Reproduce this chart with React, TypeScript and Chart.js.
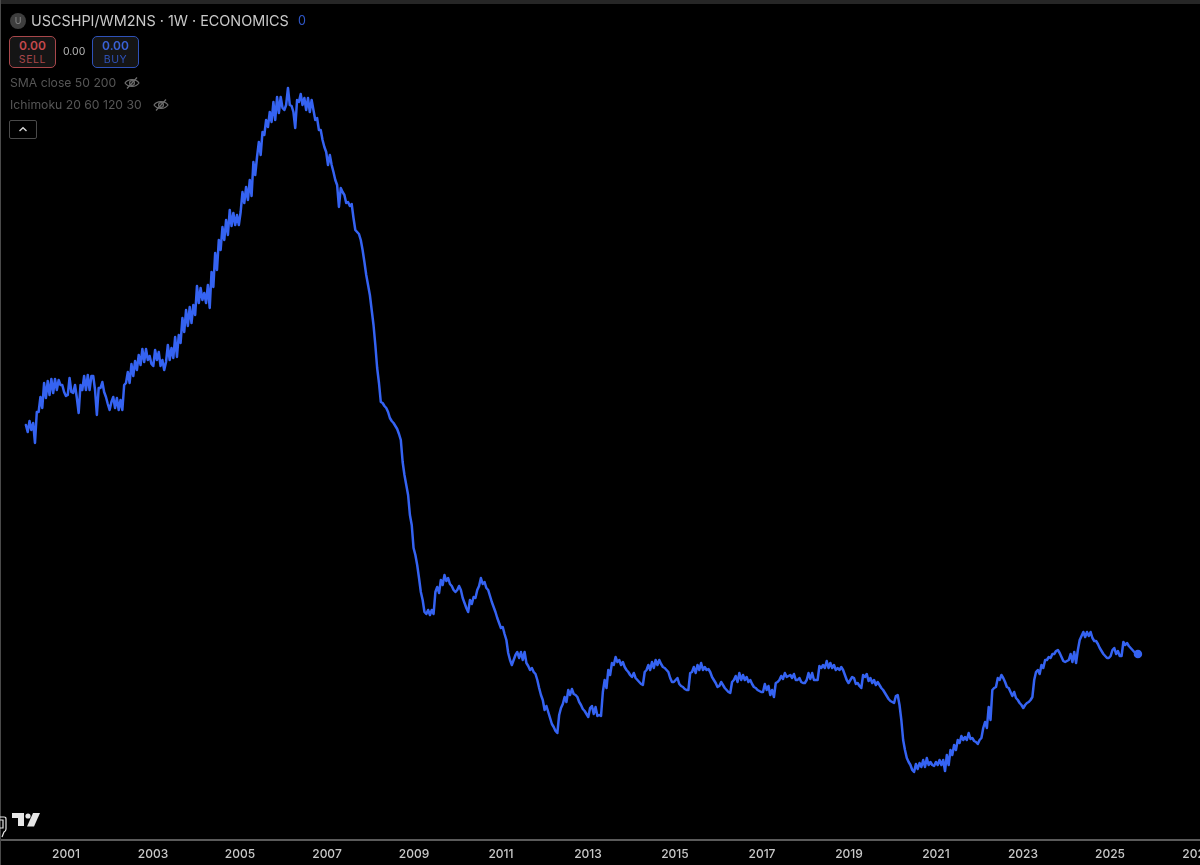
import React, { useEffect, useRef } from "react";
import { Chart, registerables } from "chart.js";

Chart.register(...registerables);

// Ratio level, height above the time axis, about two values a month.
const START_YEAR = 2000.078;
const STEPS_PER_YEAR = 23.9;
const tickYears = [2001, 2003, 2005, 2007, 2009, 2011, 2013, 2015, 2017, 2019, 2021, 2023, 2025, 2027];

const y2000 = [415,408,419,410,417,397,428,428,443,432,457,442,459,445,461,447,461,450,460,455,455,448];
const y2001 = [444,445,462,448,447,455,442,427,455,450,464,450,465,450,464,464,450,425,452,452,458,448,443,436];
const y2002 = [430,438,443,432,442,430,440,430,455,457,468,457,476,464,479,470,485,475,491,478,491,480,484,476];
const y2003 = [474,490,480,488,474,480,470,478,495,480,492,482,503,483,505,497,522,508,530,514,533,517,535,525];
const y2004 = [554,537,552,540,547,537,555,532,568,553,587,570,600,590,613,600,620,605,630,614,627,615,625,615];
const y2005 = [628,648,637,653,640,660,644,678,665,683,698,685,708,705,720,713,728,718,738,720,743,727,743,732];
const y2006 = [730,735,752,735,734,728,712,740,738,746,735,742,730,742,728,740,730,720,722,710,710,700,693,688];
const y2007 = [675,685,675,668,660,655,633,652,648,645,637,638,634,636,622,610,608,606,600,590,578,565,555,545];
const y2008 = [530,515,495,472,457,438,437,434,432,428,422,419,417,414,411,406,400,378,365,355,345,325,315,292];
const y2009 = [285,275,262,248,240,228,226,230,225,230,226,248,253,247,260,255,265,259,262,256,254,250,248,250];
const y2010 = [254,250,242,237,232,228,240,236,243,242,250,254,262,256,258,252,250,244,238,233,228,222,217,212];
const y2011 = [213,206,200,187,180,175,180,185,188,182,188,180,188,177,174,170,172,168,166,160,152,145,140,130];
const y2012 = [134,128,122,116,113,109,107,125,132,136,143,138,150,145,151,146,145,143,138,135,131,129,126,123];
const y2013 = [132,134,126,133,124,125,124,148,160,152,170,165,177,175,183,178,180,175,178,173,170,168,165,163];
const y2014 = [167,162,160,158,156,155,168,170,175,170,178,172,180,175,180,176,173,172,170,168,162,158,158,160];
const y2015 = [162,156,154,153,151,150,150,167,168,173,167,175,170,177,170,173,170,171,168,163,160,157,153,154];
const y2016 = [158,155,152,150,148,147,158,160,164,158,167,160,165,160,163,158,160,156,153,152,150,149,148,148];
const y2017 = [156,150,154,145,150,143,157,158,160,164,161,167,163,164,165,162,166,160,160,162,158,157,157,160];
const y2018 = [167,161,167,160,160,160,174,172,175,172,179,172,177,172,175,170,172,170,173,170,165,160,157,160];
const y2019 = [163,162,156,157,154,152,165,163,166,159,162,157,160,155,158,155,152,150,147,144,141,139,138,137];
const y2020 = [144,145,135,120,100,90,82,78,75,70,68,76,71,77,73,80,73,82,75,78,75,74,78,75];
const y2021 = [80,75,80,69,85,75,90,85,95,90,100,97,104,100,103,100,107,101,102,99,98,96,100,102];
const y2022 = [112,118,112,133,120,150,152,153,162,160,165,162,158,153,152,148,144,148,142,140,137,135,132,135];
const y2023 = [137,138,140,143,160,168,170,166,175,172,180,180,183,182,186,186,189,190,187,183,179,178,179,180];
const y2024 = [186,178,188,177,190,200,204,208,203,208,204,208,202,199,199,196,192,189,186,184,182,182,184,190];
const y2025 = [192,186,189,184,184,198,195,197,194,192,190,188,187,186];

const levels = [
  ...y2000, ...y2001, ...y2002, ...y2003, ...y2004, ...y2005, ...y2006, ...y2007, ...y2008,
  ...y2009, ...y2010, ...y2011, ...y2012, ...y2013, ...y2014, ...y2015, ...y2016, ...y2017,
  ...y2018, ...y2019, ...y2020, ...y2021, ...y2022, ...y2023, ...y2024, ...y2025,
];

const UI_FONT = "Inter, 'Liberation Sans', Arial, sans-serif";
const LINE = "#3563f2";

const label = (left: number, top: number, color: string, size: number, text: string, extra: any = {}) => (
  <div style={{ position: "absolute", left, top, color, fontSize: size, lineHeight: 1, whiteSpace: "nowrap", ...extra }}>{text}</div>
);

const Eye = ({ left, top }: { left: number; top: number }) => (
  <svg style={{ position: "absolute", left, top }} width="16" height="14" viewBox="0 0 16 14" fill="none" stroke="#6e6e6e" strokeWidth="1.2">
    <path d="M1 7 C4 2.5 12 2.5 15 7 C12 11.5 4 11.5 1 7 Z" />
    <circle cx="8" cy="7" r="2.4" />
    <path d="M3 12.5 L13 1.5" />
  </svg>
);

export default function App() {
  const ref = useRef<HTMLCanvasElement>(null);
  useEffect(() => {
    document.body.style.margin = "0";
    document.body.style.background = "#000";
    const points = levels.map((y, i) => ({ x: START_YEAR + i / STEPS_PER_YEAR, y }));
    const last = points.length - 1;
    const chart = new Chart(ref.current as HTMLCanvasElement, {
      type: "line",
      data: {
        datasets: [
          {
            data: points,
            borderColor: LINE,
            backgroundColor: LINE,
            borderWidth: 2.5,
            borderJoinStyle: "round",
            borderCapStyle: "round",
            tension: 0,
            pointRadius: (c: any) => (c.dataIndex === last ? 3 : 0),
            pointHoverRadius: 0,
          },
        ],
      },
      options: {
        animation: false,
        responsive: false,
        devicePixelRatio: 1,
        layout: { padding: 0, autoPadding: false },
        plugins: { legend: { display: false }, tooltip: { enabled: false }, title: { display: false } },
        scales: {
          x: {
            type: "linear",
            min: 1999.483,
            max: 2027.989,
            afterBuildTicks: (s: any) => {
              s.ticks = tickYears.map((value) => ({ value }));
            },
            afterFit: (s: any) => {
              s.height = 25;
              s.paddingLeft = 0;
              s.paddingRight = 0;
            },
            grid: { display: false, drawTicks: false },
            border: { color: "#5a5a5a", width: 2 },
            ticks: {
              autoSkip: false,
              maxRotation: 0,
              padding: 7,
              color: "#c8c8c8",
              font: { family: "Inter, 'Liberation Sans', Arial, sans-serif", size: 12, weight: "500" },
              callback: (v: any) => String(v),
            },
          },
          y: { display: false, min: 0, max: 840 },
        },
      },
    } as any);
    return () => chart.destroy();
  }, []);

  return (
    <div style={{ position: "fixed", left: 0, top: 0, width: 1200, height: 865, overflow: "hidden", background: "#000", fontFamily: UI_FONT }}>
      <canvas ref={ref} width={1240} height={865} style={{ position: "absolute", left: 0, top: 0, width: 1240, height: 865 }} />
      <div style={{ position: "absolute", left: 0, top: 0, width: 1200, height: 4, background: "#262626" }} />
      <div style={{ position: "absolute", left: 0, top: 0, width: 1, height: 865, background: "#4a4a4a" }} />

      <div style={{ position: "absolute", left: 10, top: 13, width: 16, height: 16, borderRadius: 8, background: "#3e3e3e", color: "#8a8a8a", fontSize: 9, lineHeight: "16px", textAlign: "center" }}>U</div>
      {label(31, 14, "#c9c9c9", 14.4, "USCSHPI/WM2NS · 1W · ECONOMICS")}
      {label(298, 15, "#2f57c8", 12.5, "0")}

      <div style={{ position: "absolute", left: 9, top: 36, width: 45, height: 30, border: "1px solid #a8474b", borderRadius: 5, background: "#151515", textAlign: "center", color: "#c4494d" }}>
        <div style={{ fontSize: 12, lineHeight: "14px", marginTop: 2, fontWeight: 600 }}>0.00</div>
        <div style={{ fontSize: 10.5, lineHeight: "13px", letterSpacing: 0.6, color: "#a8474b" }}>SELL</div>
      </div>
      {label(63, 47, "#b5b5b5", 10.5, "0.00")}
      <div style={{ position: "absolute", left: 92, top: 36, width: 45, height: 30, border: "1px solid #2f52b8", borderRadius: 5, background: "#151515", textAlign: "center", color: "#3a62d8" }}>
        <div style={{ fontSize: 12, lineHeight: "14px", marginTop: 2, fontWeight: 600 }}>0.00</div>
        <div style={{ fontSize: 10.5, lineHeight: "13px", letterSpacing: 0.6, color: "#2f52b8" }}>BUY</div>
      </div>

      {label(10, 77, "#565656", 12.2, "SMA close 50 200")}
      <Eye left={124} top={76} />
      {label(10, 99, "#565656", 12.2, "Ichimoku 20 60 120 30")}
      <Eye left={153} top={98} />

      <div style={{ position: "absolute", left: 9, top: 120, width: 26, height: 17, border: "1px solid #4a4a4a", borderRadius: 2 }}>
        <svg width="26" height="17" viewBox="0 0 26 17" fill="none" stroke="#d8d8d8" strokeWidth="1.4" style={{ display: "block" }}>
          <path d="M9.5 10 L13 6.8 L16.5 10" />
        </svg>
      </div>

      <svg style={{ position: "absolute", left: 0, top: 808 }} width="44" height="32" viewBox="0 0 44 32" fill="none">
        <path d="M12 5 H24 V18 H18 V10 H12 Z" fill="#e6e6e6" />
        <circle cx="28" cy="8" r="2.6" fill="#e6e6e6" />
        <path d="M33 5 H40 L34 18.5 H27 Z" fill="#e6e6e6" />
        <path d="M0 9 H4 Q6 9 6 11 V21 Q6 23 4 24 L2 29 M0 12 H3 V20 H0" stroke="#e6e6e6" strokeWidth="1.2" />
      </svg>
    </div>
  );
}
